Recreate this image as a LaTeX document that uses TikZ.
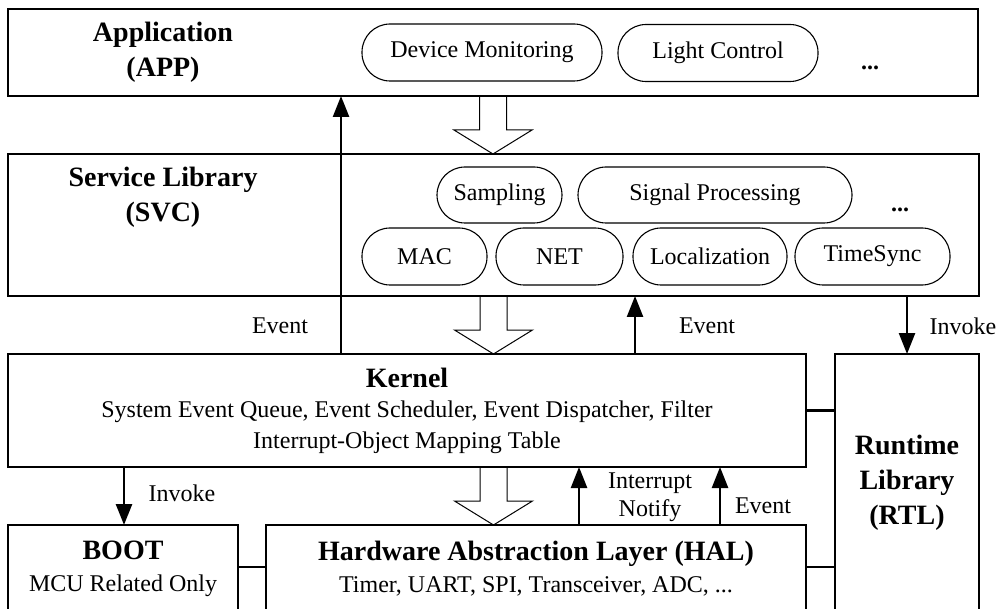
\documentclass[tikz,border=0pt]{standalone}
\usepackage{fontspec}
\setmainfont{Liberation Serif}
\usetikzlibrary{arrows.meta,calc}
\begin{document}
\begin{tikzpicture}[x=1pt,y=-1pt,
  box/.style={draw,line width=1.1pt,inner sep=0pt,outer sep=0pt},
  pill/.style={draw,line width=1.1pt,rounded corners=28pt,minimum height=57pt,inner sep=0pt,outer sep=0pt,font=\fontsize{24}{28}\selectfont},
  title/.style={align=center,font=\fontsize{28}{35}\selectfont\bfseries},
  txt/.style={font=\fontsize{24}{28}\selectfont},
  dots/.style={anchor=base,font=\fontsize{24}{28}\selectfont\bfseries},
  arr/.style={line width=2.5pt,-{Triangle[length=21pt,width=16pt]}},
  link/.style={line width=2.5pt},
  hollow/.style={line width=1pt,line join=miter,to path={let \p1=(\tikztostart),\p2=(\tikztotarget) in (\x1-13.5pt,\y1) -- (\x1-13.5pt,\y2+24pt) -- (\x1-39pt,\y2+24pt) -- (\x1,\y2) -- (\x1+39pt,\y2+24pt) -- (\x1+13.5pt,\y2+24pt) -- (\x1+13.5pt,\y1)}}
]
\useasboundingbox (0,0) rectangle (1003,609);
\clip (0,0) rectangle (1003,609);

% layer boxes
\node[box,minimum width=970pt,minimum height=87pt] (app) at (493,52.5) {};
\node[box,minimum width=971pt,minimum height=142pt] (svc) at (493.5,225) {};
\node[box,minimum width=798pt,minimum height=113pt,align=center,font=\fontsize{24}{30.5}\selectfont] (kernel) at (407,410.5)
  {{\fontsize{28}{30.5}\selectfont\bfseries Kernel}\\System Event Queue, Event Scheduler, Event Dispatcher, Filter\\Interrupt-Object Mapping Table};
\node[box,minimum width=144pt,minimum height=296pt] (rtl) at (907,502) {};
\node[box,minimum width=230pt,minimum height=125pt] (boot) at (123,587.5) {};
\node[box,minimum width=540pt,minimum height=125pt] (hal) at (536,587.5) {};

% titles
\node[title] (apptitle) at (163,52.5) {Application\\(APP)};
\node[title] (svctitle) at (163,197.5) {Service Library\\(SVC)};
\node[title] (rtltitle) at (907,483) {Runtime\\Library\\(RTL)};
\node[align=center,font=\fontsize{24}{32}\selectfont] (boottitle) at (123,569)
  {{\fontsize{28}{32}\selectfont\bfseries BOOT}\\MCU Related Only};
\node[align=center,font=\fontsize{24}{32}\selectfont] (haltitle) at (536,569)
  {{\fontsize{28}{32}\selectfont\bfseries Hardware Abstraction Layer (HAL)}\\Timer, UART, SPI, Transceiver, ADC, ...};

% application modules
\node[pill,minimum width=240pt] (devmon) at (482,52.5) {Device Monitoring};
\node[pill,minimum width=200pt] (light) at (718,53) {Light Control};
\node[dots] (dots1) at (870,70) {...};

% service modules
\node[pill,minimum width=125pt,minimum height=56pt] (sampling) at (499.5,195) {Sampling};
\node[pill,minimum width=274pt,minimum height=56pt] (sigproc) at (715,195) {Signal Processing};
\node[dots] (dots2) at (900,212) {...};
\node[pill,minimum width=125pt] (mac) at (424.5,256.5) {MAC};
\node[pill,minimum width=127pt] (net) at (559.5,256.5) {NET};
\node[pill,minimum width=154pt] (loc) at (710,256.5) {Localization};
\node[pill,minimum width=155pt] (tsync) at (872.5,256.5) {TimeSync};

% hollow arrows
\draw[hollow] (app.south) to (app.south |- svc.north);
\draw[hollow] (svc.south) to (svc.south |- kernel.north);
\draw[hollow] (svc.south |- kernel.south) to (svc.south |- hal.north);

% arrow columns
\coordinate (xa) at (341,0);
\coordinate (xb) at (635,0);
\coordinate (xc) at (579,0);
\coordinate (xd) at (720,0);
\coordinate (xe) at (124,0);
\coordinate (yl) at (0,567);

\draw[arr] (kernel.north -| xa) -- (app.south -| xa);
\draw[arr] (kernel.north -| xb) -- (svc.south -| xb);
\draw[arr] (svc.south -| rtl.north) -- (rtl.north);
\draw[arr] (kernel.south -| xe) -- (boot.north -| xe);
\draw[arr] (hal.north -| xc) -- (kernel.south -| xc);
\draw[arr] (hal.north -| xd) -- (kernel.south -| xd);

% links
\draw[link] (kernel.east) -- (kernel.east -| rtl.west);
\draw[link] (boot.east |- yl) -- (hal.west |- yl);
\draw[link] (hal.east |- yl) -- (rtl.west |- yl);

% labels
\node[txt] (ev1) at (280,326) {Event};
\node[txt] (ev2) at (707,326) {Event};
\node[txt] (inv1) at (963,326) {Invoke};
\node[txt] (inv2) at (182,493) {Invoke};
\node[txt,align=center,font=\fontsize{24}{28}\selectfont] (intn) at (650,497) {Interrupt\\Notify};
\node[txt] (ev3) at (763,506) {Event};
\end{tikzpicture}
\end{document}
